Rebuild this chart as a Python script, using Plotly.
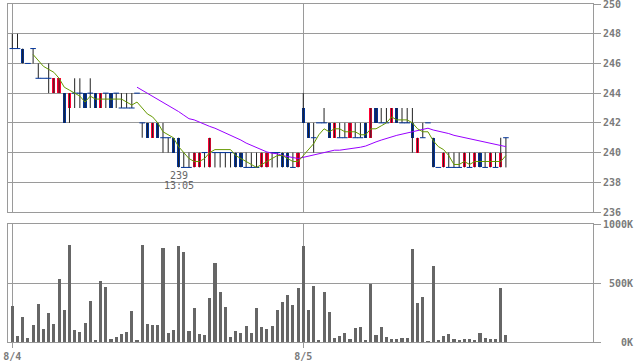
import plotly.graph_objects as go
import pandas as pd

# ---- data (5-minute bars, 8/4 and 8/5) ----
day_labels = ["8/4", "8/5"]
day_start_index = [0, 56]

opens = [247, 247, 247, 246, 247, 245, 245, 245, 244, 244, 244, 243, 244, 244, 244, 244,
         244, 243, 244, 244, 244, 243, 243, 243, 244, 242, 242, 241, 242, 241, 241, 241,
         241, 239, 239, 239, 239, 240, 239, 240, 240, 240, 240, 240, 240, 239, 239, 239,
         239, 239, 240, 240, 240, 240, 239, 239,
         243, 242, 241, 242, 242, 242, 241, 241, 241, 241, 241, 241, 242, 241, 243, 242,
         242, 242, 243, 242, 242, 242, 240, 241, 242, 241, 239, 239, 239, 239, 239, 239,
         239, 239, 240, 239, 239, 239, 239, 241]
highs = [248, 248, 247, 246, 247, 246, 245, 246, 245, 245, 244, 244, 245, 245, 244, 245,
         244, 244, 244, 244, 244, 244, 244, 244, 244, 242, 242, 242, 242, 242, 241, 241,
         241, 240, 240, 240, 240, 240, 241, 240, 240, 240, 240, 240, 240, 240, 240, 240,
         240, 240, 240, 240, 240, 240, 240, 240,
         244, 242, 242, 242, 243, 242, 242, 242, 242, 242, 242, 242, 242, 243, 243, 243,
         243, 243, 243, 243, 243, 243, 241, 242, 242, 241, 239, 240, 240, 240, 240, 240,
         240, 240, 240, 240, 240, 240, 241, 241]
lows = [247, 247, 246, 246, 246, 245, 245, 244, 244, 244, 242, 242, 243, 243, 243, 243,
        243, 243, 243, 243, 243, 243, 243, 243, 244, 241, 241, 241, 241, 240, 240, 240,
        239, 239, 239, 239, 239, 239, 239, 239, 239, 239, 239, 239, 239, 239, 239, 239,
        239, 239, 239, 239, 239, 239, 239, 239,
        242, 241, 240, 242, 242, 241, 241, 241, 241, 241, 241, 241, 241, 241, 242, 242,
        242, 242, 242, 242, 242, 240, 240, 241, 242, 239, 239, 239, 239, 239, 239, 239,
        239, 239, 239, 239, 239, 239, 239, 239]
closes = [247, 247, 246, 246, 247, 245, 245, 245, 245, 245, 242, 244, 244, 244, 243, 244,
          243, 244, 244, 243, 244, 243, 243, 243, 244, 242, 241, 242, 241, 241, 241, 240,
          239, 239, 239, 240, 240, 240, 241, 240, 240, 240, 240, 239, 239, 239, 239, 239,
          240, 240, 240, 240, 239, 239, 239, 240,
          242, 241, 241, 242, 242, 241, 242, 241, 241, 242, 241, 241, 241, 243, 242, 242,
          242, 243, 242, 242, 242, 241, 241, 241, 242, 239, 239, 240, 239, 239, 239, 240,
          239, 240, 239, 239, 240, 239, 240, 241]
volumes_k = [305, 51, 212, 34, 144, 322, 110, 246, 153, 534, 271, 822, 102, 85, 161, 347,
             17, 517, 466, 25, 42, 68, 85, 263, 17, 822, 153, 144, 144, 797, 76, 102,
             814, 763, 93, 288, 68, 59, 373, 669, 424, 297, 42, 93, 76, 136, 76, 288,
             127, 110, 136, 271, 339, 398, 314, 458,
             813, 271, 475, 17, 424, 254, 34, 51, 76, 25, 119, 127, 17, 492, 59, 127,
             42, 25, 25, 34, 34, 788, 331, 381, 8, 644, 17, 51, 68, 25, 17, 25,
             25, 17, 76, 34, 25, 25, 458, 59]

price_ticks = [236, 238, 240, 242, 244, 246, 248, 250]
volume_ticks = [0, 500, 1000]
volume_tick_text = ["\u00a0\u00a0\u00a00K", "\u00a0500K", "1000K"]
low_time_label = "13:05"

# ---- styles ----
UP = "#ff0033"
DOWN = "#003399"
WICK = "#222222"
GRID = "#9a9a9a"
LABEL = "#7a7a7a"
MONO = "DejaVu Sans Mono"

n = len(closes)
idx = list(range(n))

# bodies (non-doji)
bx, bbase, blen, bcol = [], [], [], []
dx, dy = [], []
for i, (o, c) in enumerate(zip(opens, closes)):
    if o == c:
        dx.append(i)
        dy.append(c)
    else:
        bx.append(i)
        bbase.append(min(o, c))
        blen.append(abs(c - o))
        bcol.append(UP if c > o else DOWN)

wx, wy = [], []
for i, (h, l) in enumerate(zip(highs, lows)):
    if h > l:
        wx += [i, i, None]
        wy += [l, h, None]

# moving averages of closes (5 and 25 bars)
cs = pd.Series(closes)
ma_short = cs.rolling(5).mean().tolist()
ma_long = cs.rolling(25).mean().tolist()

fig = go.Figure()
fig.add_trace(go.Scatter(x=wx, y=wy, mode="lines", line=dict(color=WICK, width=1),
                         xaxis="x", yaxis="y", hoverinfo="skip"))
fig.add_trace(go.Bar(x=bx, y=blen, base=bbase, width=0.62, marker=dict(color=bcol, line=dict(width=0)),
                     xaxis="x", yaxis="y"))
fig.add_trace(go.Scatter(x=dx, y=dy, mode="markers",
                         marker=dict(symbol="line-ew", size=4, line=dict(color=DOWN, width=1)),
                         xaxis="x", yaxis="y"))
fig.add_trace(go.Scatter(x=idx, y=ma_long, mode="lines", line=dict(color="#9900ff", width=1),
                         xaxis="x", yaxis="y"))
fig.add_trace(go.Scatter(x=idx, y=ma_short, mode="lines", line=dict(color="#669900", width=1),
                         xaxis="x", yaxis="y"))
fig.add_trace(go.Bar(x=idx, y=volumes_k, width=0.6, marker=dict(color="#666666", line=dict(width=0)),
                     xaxis="x2", yaxis="y2"))

low_price = min(lows)
low_idx = lows.index(low_price)
fig.add_annotation(x=low_idx, y=low_price, xref="x", yref="y", text=str(low_price),
                   showarrow=False, yanchor="top", yshift=-1,
                   font=dict(family=MONO, size=10, color="#666666"))
fig.add_annotation(x=low_idx, y=low_price, xref="x", yref="y", text=low_time_label,
                   showarrow=False, yanchor="top", yshift=-11,
                   font=dict(family=MONO, size=10, color="#666666"))

xr = [-0.83, 111.76]
tickfont = dict(family=MONO, size=10, color=LABEL, weight="bold")
fig.update_layout(
    width=638, height=362,
    margin=dict(l=8, r=45, t=4, b=20, autoexpand=False),
    paper_bgcolor="white", plot_bgcolor="white",
    showlegend=False, barmode="overlay", bargap=0,
    xaxis=dict(domain=[0, 1], anchor="y", range=xr, tickvals=day_start_index,
               showticklabels=False, ticks="", showgrid=True, gridcolor=GRID, gridwidth=1,
               showline=True, mirror=True, linecolor=GRID, zeroline=False, automargin=False),
    yaxis=dict(domain=[0.3846, 1], anchor="x", range=[236, 250], tickvals=price_ticks,
               side="right", ticks="outside", ticklen=7, tickcolor=GRID,
               showgrid=True, gridcolor=GRID, gridwidth=1, showline=True, mirror=True,
               linecolor=GRID, zeroline=False, tickfont=tickfont, automargin=False,
               ticklabeloverflow="allow"),
    xaxis2=dict(domain=[0, 1], anchor="y2", range=xr, tickvals=day_start_index,
                ticktext=day_labels, ticks="outside", ticklen=5, tickcolor=GRID,
                showgrid=True, gridcolor=GRID, gridwidth=1, showline=True, mirror=True,
                linecolor=GRID, zeroline=False, tickfont=tickfont, automargin=False,
                ticklabelstandoff=0, ticklabeloverflow="allow"),
    yaxis2=dict(domain=[0, 0.3491], anchor="x2", range=[0, 1000], tickvals=volume_ticks,
                ticktext=volume_tick_text, side="right", ticks="outside", ticklen=7,
                tickcolor=GRID, showgrid=True, gridcolor=GRID, gridwidth=1, showline=True,
                mirror=True, linecolor=GRID, zeroline=False, tickfont=tickfont, automargin=False,
                ticklabeloverflow="allow"),
)

fig.write_html("out.html", config={"displayModeBar": False},
               post_script="document.body.style.margin='0';document.body.style.overflow='hidden';")
